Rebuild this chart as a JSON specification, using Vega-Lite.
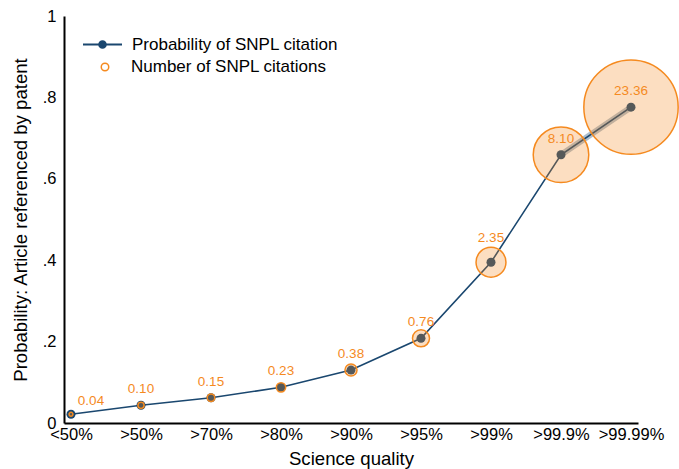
{
  "$schema": "https://vega.github.io/schema/vega-lite/v6.json",
  "width": 574,
  "height": 407,
  "autosize": {"type": "none"},
  "padding": {"left": 64, "top": 16, "right": 41, "bottom": 46},
  "background": "white",
  "config": {
    "view": {"stroke": null},
    "font": "Liberation Sans",
    "axis": {
      "domainColor": "black",
      "domainWidth": 2,
      "ticks": false,
      "tickSize": 0,
      "grid": false,
      "labelColor": "black",
      "labelFontSize": 16.5,
      "titleColor": "black",
      "titleFontSize": 18.6,
      "titleFontWeight": "normal"
    },
    "legend": {"labelFontSize": 17, "labelColor": "black", "labelLimit": 400, "padding": 0, "title": null}
  },
  "resolve": {"scale": {"color": "independent"}, "legend": {"color": "independent"}},
  "data": {
    "values": [
      {"q": "<50%", "p": 0.0214, "n": 0.04},
      {"q": ">50%", "p": 0.0435, "n": 0.10},
      {"q": ">70%", "p": 0.062, "n": 0.15},
      {"q": ">80%", "p": 0.0877, "n": 0.23},
      {"q": ">90%", "p": 0.130, "n": 0.38},
      {"q": ">95%", "p": 0.208, "n": 0.76},
      {"q": ">99%", "p": 0.395, "n": 2.35},
      {"q": ">99.9%", "p": 0.659, "n": 8.10},
      {"q": ">99.99%", "p": 0.776, "n": 23.36}
    ]
  },
  "encoding": {
    "x": {
      "field": "q",
      "type": "ordinal",
      "sort": null,
      "scale": {"type": "point", "padding": 0.1, "domain": ["<50%", ">50%", ">70%", ">80%", ">90%", ">95%", ">99%", ">99.9%", ">99.99%"]},
      "title": "Science quality",
      "axis": {"labelAngle": 0, "labelPadding": 3, "titlePadding": 7}
    },
    "y": {
      "field": "p",
      "type": "quantitative",
      "scale": {"domain": [0, 1], "nice": false, "zero": true},
      "title": "Probability: Article referenced by patent",
      "axis": {
        "values": [0, 0.2, 0.4, 0.6, 0.8, 1],
        "labelExpr": "datum.value == 0 ? '0' : datum.value == 1 ? '1' : replace(format(datum.value, '.1f'), '0.', '.')",
        "labelPadding": 8,
        "titlePadding": 12
      }
    }
  },
  "layer": [
    {
      "transform": [{"filter": {"field": "q", "oneOf": [">99.9%", ">99.99%"]}}],
      "mark": {"type": "line", "color": "#1a476f", "strokeWidth": 6, "opacity": 0.35},
      "encoding": {}
    },
    {
      "mark": {"type": "line", "strokeWidth": 1.6},
      "encoding": {
        "color": {
          "datum": "Probability of SNPL citation",
          "type": "nominal",
          "scale": {"range": ["#1a476f"]},
          "legend": {
            "orient": "none",
            "legendX": 18,
            "legendY": 8,
            "symbolType": "M-1,0H1M0.17,0A0.17,0.17 0 1 1 -0.17,0A0.17,0.17 0 1 1 0.17,0Z",
            "symbolSize": 1521,
            "symbolFillColor": "#1a476f",
            "symbolStrokeWidth": 2,
            "labelOffset": 9
          }
        }
      }
    },
    {
      "mark": {"type": "point", "filled": true, "color": "#1a476f", "size": 81, "opacity": 1}
    },
    {
      "mark": {"type": "point", "filled": true, "color": "#f58a1f", "fillOpacity": 0.28, "strokeWidth": 0, "opacity": 1},
      "encoding": {
        "size": {"field": "n", "type": "quantitative", "scale": {"domain": [0, 23.36], "range": [0, 8900], "zero": true}, "legend": null}
      }
    },
    {
      "mark": {"type": "point", "filled": false, "strokeWidth": 1.5, "strokeOpacity": 1, "opacity": 1},
      "encoding": {
        "color": {
          "datum": "Number of SNPL citations",
          "type": "nominal",
          "scale": {"range": ["#f58a1f"]},
          "legend": {
            "orient": "none",
            "legendX": 32.5,
            "legendY": 42.5,
            "symbolType": "circle",
            "symbolSize": 56,
            "symbolStrokeWidth": 1.5,
            "symbolFillColor": "#fdd5b0",
            "labelOffset": 17.5
          }
        },
        "size": {"field": "n", "type": "quantitative", "scale": {"domain": [0, 23.36], "range": [0, 8900], "zero": true}, "legend": null}
      }
    },
    {
      "transform": [{"filter": {"not": {"field": "q", "oneOf": ["<50%", ">99%"]}}}],
      "mark": {"type": "text", "color": "#f58a1f", "fontSize": 13.5, "dy": -16, "baseline": "middle"},
      "encoding": {"text": {"field": "n", "type": "quantitative", "format": ".2f"}}
    },
    {
      "transform": [{"filter": {"field": "q", "equal": "<50%"}}],
      "mark": {"type": "text", "color": "#f58a1f", "fontSize": 13.5, "dx": 20, "dy": -13, "baseline": "middle"},
      "encoding": {"text": {"field": "n", "type": "quantitative", "format": ".2f"}}
    },
    {
      "transform": [{"filter": {"field": "q", "equal": ">99%"}}],
      "mark": {"type": "text", "color": "#f58a1f", "fontSize": 13.5, "dy": -24, "baseline": "middle"},
      "encoding": {"text": {"field": "n", "type": "quantitative", "format": ".2f"}}
    }
  ]
}
